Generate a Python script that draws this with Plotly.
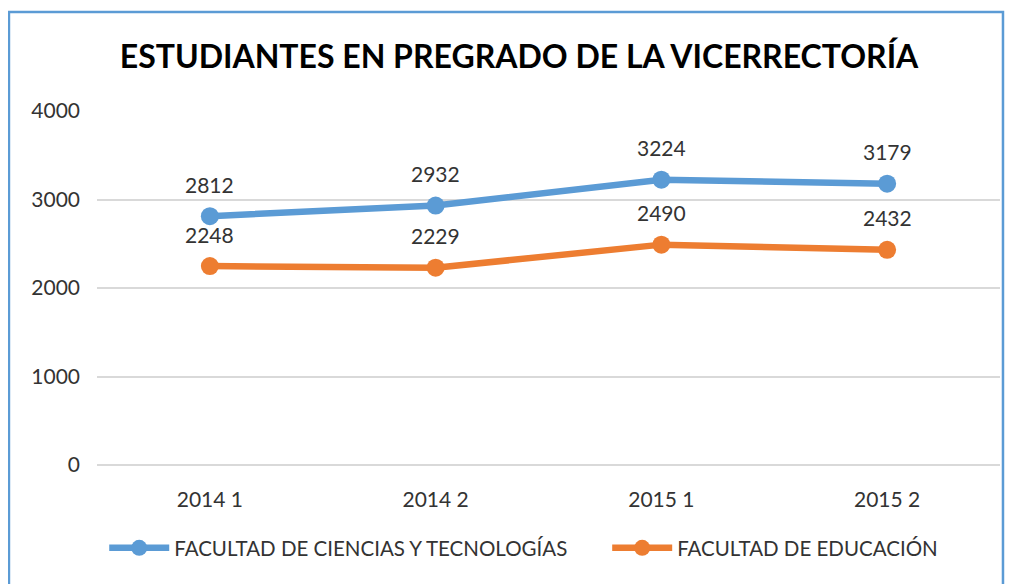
import plotly.graph_objects as go

categories = ["2014 1", "2014 2", "2015 1", "2015 2"]
ciencias = [2812, 2932, 3224, 3179]
educacion = [2248, 2229, 2490, 2432]
series_names = ["FACULTAD DE CIENCIAS Y TECNOLOGÍAS", "FACULTAD DE EDUCACIÓN"]
y_ticks = [0, 1000, 2000, 3000, 4000]
title = "ESTUDIANTES EN PREGRADO DE LA VICERRECTORÍA"

BLUE = "#5B9BD5"
ORANGE = "#ED7D31"
FONT = "Lato, 'Open Sans', sans-serif"
TXT = "#333333"

fig = go.Figure()
for name, vals, col, lg in [(series_names[0], ciencias, BLUE, "legend"),
                            (series_names[1], educacion, ORANGE, "legend2")]:
    fig.add_trace(go.Scatter(
        x=categories, y=vals, name=name, mode="lines+markers", legend=lg,
        line=dict(color=col, width=6.5), marker=dict(color=col, size=18),
    ))
    for c, v in zip(categories, vals):
        fig.add_annotation(x=c, y=v, text=str(v), showarrow=False, yshift=32,
                           font=dict(size=21, color=TXT, family=FONT))

leg_common = dict(orientation="h", yanchor="top", y=-0.178,
                  font=dict(size=20.5, color=TXT, family=FONT), itemwidth=60,
                  bgcolor="rgba(0,0,0,0)")

fig.update_layout(
    width=1016, height=584,
    margin=dict(l=89, r=24, t=103, b=127),
    paper_bgcolor="white", plot_bgcolor="white",
    title=dict(text="<b>" + title + "</b>", x=0.503, xanchor="center", y=0.916, yanchor="middle",
               font=dict(size=32, color="black", family=FONT)),
    showlegend=True,
    legend=dict(x=0.008, xanchor="left", **leg_common),
    legend2=dict(x=0.565, xanchor="left", **leg_common),
    xaxis=dict(type="category", range=[-0.5, 3.5], showgrid=False, showline=False, ticks="",
               tickfont=dict(size=21, color=TXT, family=FONT), ticklabelstandoff=20),
    yaxis=dict(range=[0, 4000], tickvals=y_ticks, showgrid=True, gridcolor="#D9D9D9",
               gridwidth=1.5, zeroline=True, zerolinecolor="#D9D9D9", zerolinewidth=1.5,
               showline=False,
               tickfont=dict(size=21, color=TXT, family=FONT), ticklabelstandoff=16),
    shapes=[dict(type="rect", xref="paper", yref="paper", x0=-0.0975, x1=1.0033,
                 y0=-0.5, y1=1.2797, line=dict(color=BLUE, width=2.5), layer="above")],
)

fig.write_html("out.html")
